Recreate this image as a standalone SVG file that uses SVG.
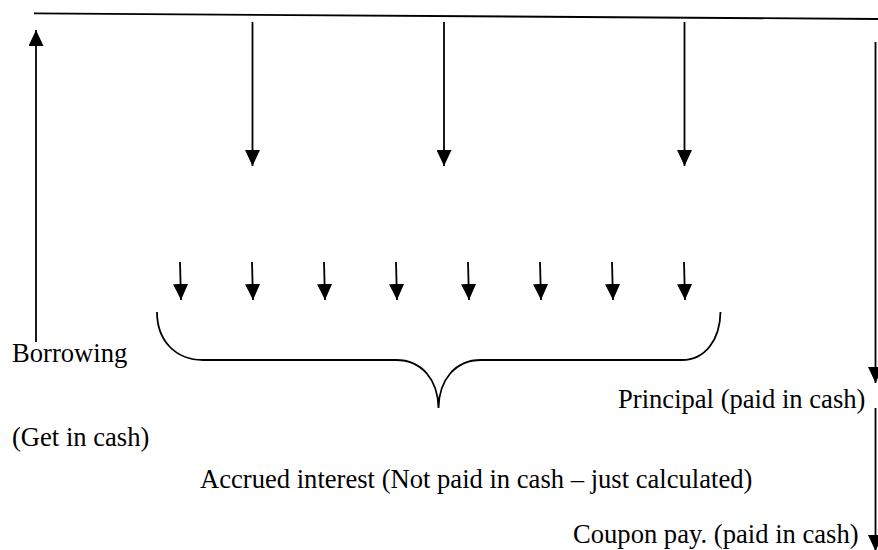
<svg xmlns="http://www.w3.org/2000/svg" width="878" height="550" viewBox="0 0 878 550">
<defs>
<marker id="ah" viewBox="0 0 16 15" refX="16" refY="7.5" markerWidth="16" markerHeight="15" markerUnits="userSpaceOnUse" orient="auto">
<path d="M0,0 L16,7.5 L0,15 z" fill="#000"/>
</marker>
</defs>
<style>
.ln{stroke:#000;stroke-width:1.8;fill:none}
.ar{stroke:#000;stroke-width:1.8;fill:none;marker-end:url(#ah)}
.t{font-size:26.6px;fill:#000}
</style>
<g id="connectors">
<line id="timeline" class="ln" x1="34" y1="13.3" x2="878" y2="19"/>
<line class="ar" x1="36" y1="342" x2="36" y2="30"/>
<line class="ar" x1="252.5" y1="22" x2="252.5" y2="166"/>
<line class="ar" x1="444" y1="22" x2="444" y2="166"/>
<line class="ar" x1="684.5" y1="22" x2="684.5" y2="166"/>
<line class="ar" x1="180" y1="262" x2="181" y2="300"/>
<line class="ar" x1="252" y1="262" x2="253" y2="300"/>
<line class="ar" x1="324" y1="262" x2="325" y2="300"/>
<line class="ar" x1="396" y1="262" x2="397" y2="300"/>
<line class="ar" x1="468" y1="262" x2="469" y2="300"/>
<line class="ar" x1="540" y1="262" x2="541" y2="300"/>
<line class="ar" x1="612" y1="262" x2="613" y2="300"/>
<line class="ar" x1="684" y1="262" x2="685" y2="300"/>
<line class="ar" x1="875.5" y1="42" x2="875.5" y2="383"/>
<line class="ar" x1="875.5" y1="408" x2="875.5" y2="551"/>
<path id="brace" class="ln" d="M157,312 C157,340 175,360 203,360 L396,360 C422,360 438,380 438.5,408 C439,380 455,360 481,360 L682,360 C705,360 720,340 720.5,312"/>
</g>
<g id="labels" font-family="Liberation Serif, Times New Roman, serif">
<g id="borrowing"><text class="t" x="12" y="362">Borrowing</text></g>
<g id="get-cash"><text class="t" x="12" y="446">(Get in cash)</text></g>
<g id="principal"><text class="t" x="618" y="408">Principal (paid in cash)</text></g>
<g id="accrued"><text class="t" x="200" y="488">Accrued interest (Not paid in cash – just calculated)</text></g>
<g id="coupon"><text class="t" x="573" y="543">Coupon pay. (paid in cash)</text></g>
</g>
</svg>
